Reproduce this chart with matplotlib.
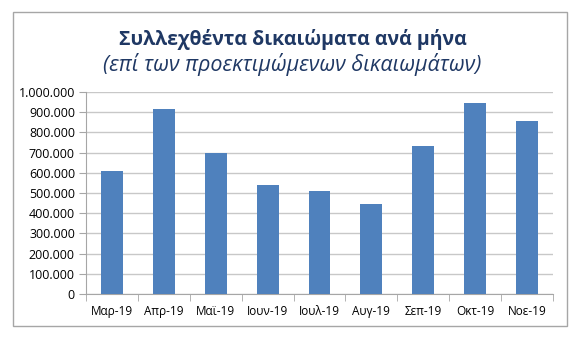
import numpy as np
import matplotlib.pyplot as plt
from matplotlib.patches import Rectangle
from matplotlib.ticker import FuncFormatter

plt.rcParams['font.family'] = ['Open Sans', 'Noto Sans', 'DejaVu Sans']

months = ["Μαρ-19", "Απρ-19", "Μαϊ-19", "Ιουν-19", "Ιουλ-19",
          "Αυγ-19", "Σεπ-19", "Οκτ-19", "Νοε-19"]
collected = [611000, 916000, 700000, 541000, 512000,
             448000, 733000, 947000, 856000]

title = "Συλλεχθέντα δικαιώματα ανά μήνα"
subtitle = "(επί των προεκτιμώμενων δικαιωμάτων)"

W, H = 585, 351
fig = plt.figure(figsize=(W / 100, H / 100), dpi=100)

# outer frame
fig.patches.append(Rectangle((13 / W, 1 - 326 / H), (567 - 13) / W, (326 - 12) / H,
                             transform=fig.transFigure, fill=False,
                             edgecolor="#a6a6a6", linewidth=1.0))

fig.text(0.5, 1 - 40 / H, title, ha="center", va="center",
         fontsize=14, fontweight="bold", color="#1f3864")
fig.text(0.5, 1 - 64 / H, subtitle, ha="center", va="center",
         fontsize=15.5, style="italic", color="#1f3864")

ax = fig.add_axes([86 / W, 1 - 294 / H, (553 - 86) / W, (294 - 92) / H])
x = np.arange(len(months))
ax.bar(x, collected, width=0.42, color="#4f81bd", zorder=3)

ax.set_xlim(-0.5, len(months) - 0.5)
ax.set_ylim(0, 1000000)
ax.set_yticks(np.arange(0, 1000001, 100000))
ax.yaxis.set_major_formatter(FuncFormatter(lambda v, p: f"{int(v):,}".replace(",", ".")))
ax.grid(axis="y", color="#c8c8c8", linewidth=1.0, zorder=0)

ax.set_xticks(x)
ax.set_xticklabels(months)
ax.set_xticks(np.arange(-0.5, len(months)), minor=True)
ax.tick_params(axis="x", which="major", length=0, pad=8, labelsize=8.5)
ax.tick_params(axis="x", which="minor", length=5, color="#a6a6a6")
ax.tick_params(axis="y", length=5, color="#a6a6a6", labelsize=9, pad=3)

for s in ["top", "right"]:
    ax.spines[s].set_visible(False)
ax.spines["left"].set_color("#a6a6a6")
ax.spines["bottom"].set_color("#a6a6a6")

fig.savefig("out.png", dpi=100)
